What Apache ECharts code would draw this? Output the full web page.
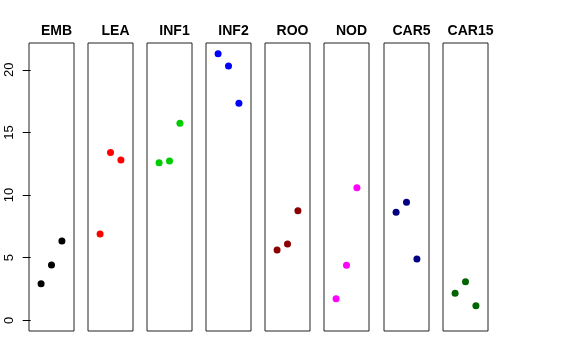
<!DOCTYPE html>
<html>
<head>
<meta charset="utf-8">
<script src="https://cdn.jsdelivr.net/npm/echarts@6/dist/echarts.min.js"></script>
<style>html,body{margin:0;padding:0;background:#fff}#c{width:576px;height:360px}</style>
</head>
<body>
<div id="c"></div>
<script>
var panels = ["EMB","LEA","INF1","INF2","ROO","NOD","CAR5","CAR15"];
var colors = ["#000000","#FF0000","#00CD00","#0000FF","#8B0000","#FF00FF","#000080","#006400"];
var xPositions = [1, 2, 3];
var EMB   = [2.92, 4.42, 6.33];
var LEA   = [6.89, 13.39, 12.80];
var INF1  = [12.59, 12.72, 15.73];
var INF2  = [21.29, 20.31, 17.33];
var ROO   = [5.61, 6.09, 8.75];
var NOD   = [1.73, 4.39, 10.59];
var CAR5  = [8.63, 9.42, 4.90];
var CAR15 = [2.16, 3.08, 1.17];
var values = [EMB, LEA, INF1, INF2, ROO, NOD, CAR5, CAR15];
var yTicks = [0, 5, 10, 15, 20];

var panelLeft = [29, 88, 147, 206, 265, 324, 384, 443];
var panelW = 45, panelTop = 43, panelH = 288;

var grids = [], xAxes = [], yAxes = [], series = [], titles = [];
panels.forEach(function(name, i){
  grids.push({left: panelLeft[i], top: panelTop, width: panelW, height: panelH,
    show: true, borderColor: '#222', borderWidth: 1, backgroundColor: 'transparent', containLabel: false});
  xAxes.push({type: 'value', gridIndex: i, min: -0.16, max: 4.16, show: false});
  yAxes.push({type: 'value', gridIndex: i, min: -0.85, max: 22.14, show: i === 0,
    splitLine: {show: false},
    axisLine: {show: false},
    axisTick: {show: true, length: 8, lineStyle: {color: '#000'},
      customValues: yTicks},
    axisLabel: {show: true, rotate: 90, margin: 13, fontSize: 13, color: '#000',
      fontFamily: 'Liberation Sans, Arial, sans-serif', customValues: yTicks,
      showMinLabel: true, showMaxLabel: true}
  });
  series.push({type: 'scatter', xAxisIndex: i, yAxisIndex: i, symbolSize: 7,
    itemStyle: {color: colors[i], opacity: 1},
    data: values[i].map(function(v, k){ return [xPositions[k], v]; }),
    silent: true, animation: false});
  titles.push({text: name, left: panelLeft[i] + panelW / 2, top: 19, textAlign: 'center',
    textStyle: {fontSize: 14, fontWeight: 'bold', color: '#000', fontFamily: 'Liberation Sans, Arial, sans-serif'}});
});

var chart = echarts.init(document.getElementById('c'), null, {renderer: 'canvas'});
chart.setOption({
  animation: false,
  backgroundColor: '#fff',
  title: titles,
  grid: grids,
  xAxis: xAxes,
  yAxis: yAxes,
  series: series
});
</script>
</body>
</html>
